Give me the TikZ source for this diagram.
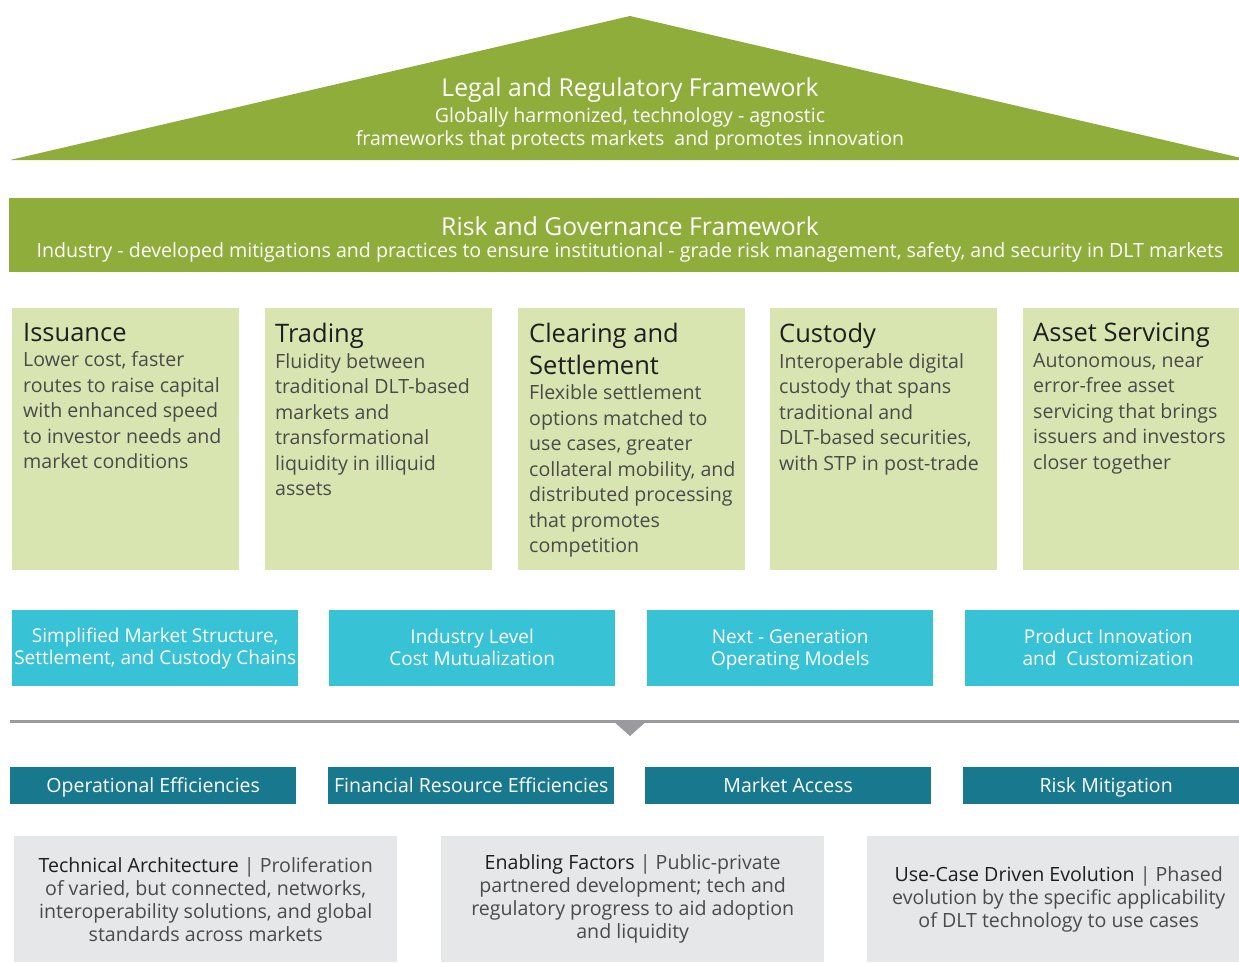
\documentclass[tikz,border=0pt]{standalone}
\usepackage{fontspec}
\setmainfont{Open Sans}
\usetikzlibrary{positioning}

\definecolor{leafgreen}{HTML}{8FAD3B}
\definecolor{palegreen}{HTML}{D8E5B0}
\definecolor{skyblue}{HTML}{38C2D6}
\definecolor{deepteal}{HTML}{17788E}
\definecolor{lightgrey}{HTML}{E6E7E8}
\definecolor{linegrey}{HTML}{9B9B9F}
\definecolor{darkink}{HTML}{1E1E1E}
\definecolor{softink}{HTML}{4A4A4A}

\tikzset{
  pillar/.style={fill=palegreen, minimum width=227pt, minimum height=262pt, anchor=north west, inner sep=0pt},
  pillartext/.style={anchor=north west, align=left, inner sep=0pt, text=softink, font=\fontsize{19.6}{25.5}\selectfont},
  driver/.style={fill=skyblue, minimum width=286pt, minimum height=76pt, anchor=north west, inner sep=0pt},
  drivertext/.style={align=center, text=white, inner sep=0pt, font=\fontsize{19}{22}\selectfont},
  benefit/.style={fill=deepteal, minimum width=286pt, minimum height=37pt, anchor=north west, inner sep=0pt,
    text height=17pt, text depth=3pt, text=white, font=\fontsize{19.5}{22}\selectfont},
  factor/.style={fill=lightgrey, minimum width=383pt, minimum height=126pt, anchor=north west, inner sep=0pt},
  factortext/.style={align=center, text=softink, inner sep=0pt, font=\fontsize{19.6}{23}\selectfont},
}
\newcommand{\pillarhead}[1]{{\fontsize{25.5}{32}\selectfont\color{darkink}#1}}
\newcommand{\factorhead}[1]{{\color{darkink}#1}}

\begin{document}
\begin{tikzpicture}[x=1pt, y=-1pt]
\useasboundingbox (0,0) rectangle (1239,962);
\clip (0,0) rectangle (1239,962);

% roof
\fill[leafgreen] (10,160) -- (630,16) -- (1250,160) -- cycle;
\node[text=white, align=center, inner sep=0pt, font=\fontsize{24.7}{26}\selectfont] (legal) at (630,90) {Legal and Regulatory Framework};
\node[text=white, align=center, inner sep=0pt, font=\fontsize{19.5}{23}\selectfont, below=5pt of legal] (legalsub)
  {Globally harmonized, technology - agnostic\\frameworks that protects markets\ \ and promotes innovation};

% risk band
\node[fill=leafgreen, minimum width=1242pt, minimum height=74pt, anchor=north west, inner sep=0pt] (risk) at (9,198) {};
\node[text=white, inner sep=0pt, font=\fontsize{24.7}{26}\selectfont] (riskhead) at (630,226) {Risk and Governance Framework};
\node[text=white, inner sep=0pt, font=\fontsize{19.6}{22}\selectfont] (risksub) at (630,252)
  {Industry - developed mitigations and practices to ensure institutional - grade risk management, safety, and security in DLT markets};

% pillars
\node[pillar] (iss) at (12,308) {};
\node[pillar] (trd) at (265,308) {};
\node[pillar] (clr) at (518,308) {};
\node[pillar] (cus) at (770,308) {};
\node[pillar] (srv) at (1023,308) {};
\node[pillartext] (isstext) at ([xshift=11pt,yshift=-15pt]iss.north west)
  {\pillarhead{Issuance}\\Lower cost, faster\\routes to raise capital\\with enhanced speed\\to investor needs and\\market conditions};
\node[pillartext] (trdtext) at ([xshift=10pt,yshift=-15pt]trd.north west)
  {\pillarhead{Trading}\\Fluidity between\\traditional DLT-based\\markets and\\transformational\\liquidity in illiquid\\assets};
\node[pillartext] (clrtext) at ([xshift=11pt,yshift=-15pt]clr.north west)
  {\pillarhead{Clearing and}\\[6pt]\pillarhead{Settlement}\\Flexible settlement\\options matched to\\use cases, greater\\collateral mobility, and\\distributed processing\\that promotes\\competition};
\node[pillartext] (custext) at ([xshift=9pt,yshift=-15pt]cus.north west)
  {\pillarhead{Custody}\\Interoperable digital\\custody that spans\\traditional and\\DLT-based securities,\\with STP in post-trade};
\node[pillartext] (srvtext) at ([xshift=10pt,yshift=-15pt]srv.north west)
  {\pillarhead{Asset Servicing}\\Autonomous, near\\error-free asset\\servicing that brings\\issuers and investors\\closer together};

% drivers
\node[driver] (simp) at (12,610) {};
\node[driver] (mutu) at (329,610) {};
\node[driver] (nextgen) at (647,610) {};
\node[driver] (prod) at (965,610) {};
\node[drivertext] at (simp.center) {Simplified Market Structure,\\Settlement, and Custody Chains};
\node[drivertext] at ([yshift=1pt]mutu.center) {Industry Level\\Cost Mutualization};
\node[drivertext] at ([yshift=-2pt]nextgen.center) {Next - Generation\\Operating Models};
\node[drivertext] at ([yshift=1pt]prod.center) {Product Innovation\\and\ \ Customization};

% divider with pointer
\coordinate (divL) at (10,721);
\coordinate (divR) at (1250,721);
\draw[linegrey, line width=3pt] (divL) -- (divR);
\fill[linegrey] (612,720) -- (648,720) -- (630,736) -- cycle;

% benefits
\node[benefit] (opeff) at (10,767) {Operational Efficiencies};
\node[benefit] (fineff) at (328,767) {Financial Resource Efficiencies};
\node[benefit] (mktacc) at (645,767) {Market Access};
\node[benefit] (riskmit) at (963,767) {Risk Mitigation};

% enabling factors
\node[factor] (tech) at (14,836) {};
\node[factor] (enab) at (441,836) {};
\node[factor] (usecase) at (867,836) {};
\node[factortext] at (tech.center)
  {\factorhead{Technical Architecture} | Proliferation\\of varied, but connected, networks,\\interoperability solutions, and global\\standards across markets};
\node[factortext] at (enab.center)
  {\factorhead{Enabling Factors} | Public-private\\partnered development; tech and\\regulatory progress to aid adoption\\and liquidity};
\node[factortext] at (usecase.center)
  {\factorhead{Use-Case Driven Evolution} | Phased\\evolution by the specific applicability\\of DLT technology to use cases};
\end{tikzpicture}
\end{document}
